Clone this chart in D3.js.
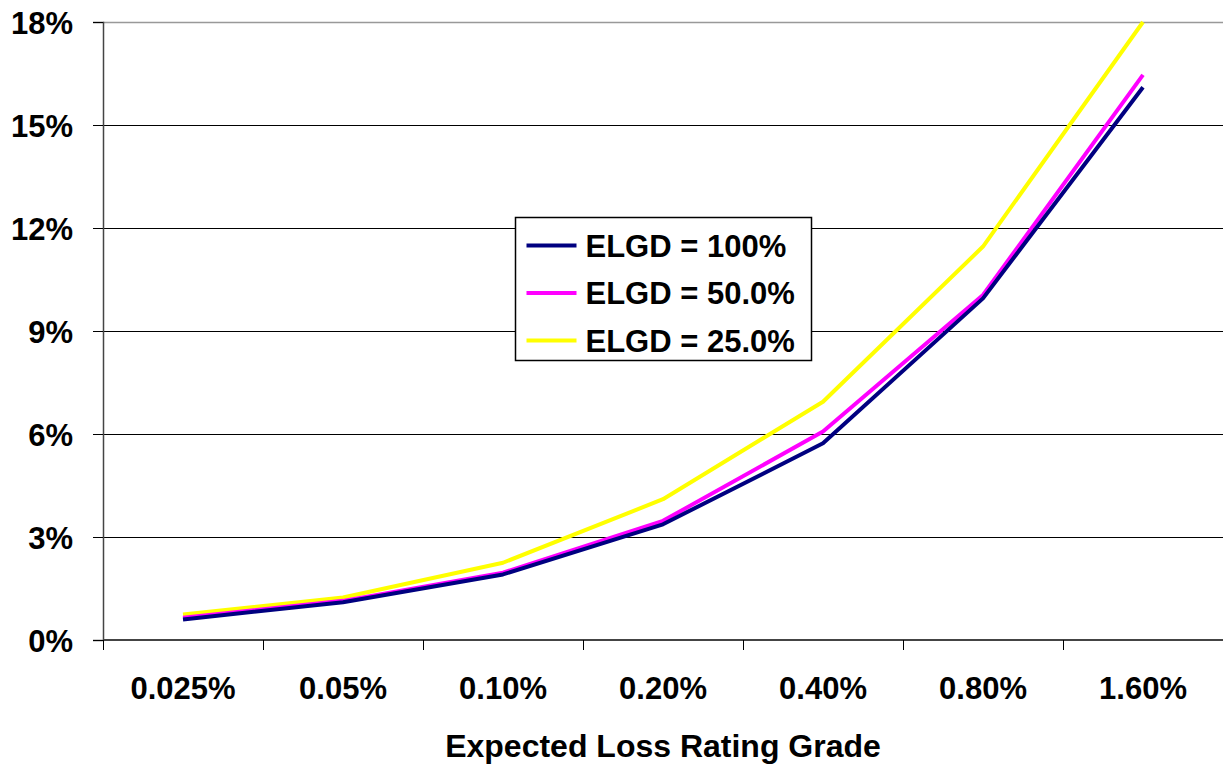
<!DOCTYPE html>
<html>
<head>
<meta charset="utf-8">
<script src="https://cdn.jsdelivr.net/npm/d3@7"></script>
<style>
  body { margin: 0; background: #fff; }
  svg text { font-family: "Liberation Sans", Arial, sans-serif; font-weight: bold; fill: #000; }
</style>
</head>
<body>
<svg id="chart" width="1223" height="764"></svg>
<script>
// data
var grades = ["0.025%", "0.05%", "0.10%", "0.20%", "0.40%", "0.80%", "1.60%"];
var yTicks = [0, 3, 6, 9, 12, 15, 18];
var elgd100 = [0.60, 1.10, 1.91, 3.37, 5.73, 9.95, 16.1];
var elgd50  = [0.65, 1.14, 1.96, 3.47, 6.07, 10.05, 16.46];
var elgd25  = [0.74, 1.24, 2.25, 4.10, 6.94, 11.46, 18.0];

var seriesNames = ["ELGD = 100%", "ELGD = 50.0%", "ELGD = 25.0%"];
var seriesColors = ["#000080", "#FF00FF", "#FFFF00"];
var series = [elgd100, elgd50, elgd25];

var margin = {top: 22, right: 0, bottom: 124, left: 103},
    width = 1223 - margin.left - margin.right,
    height = 764 - margin.top - margin.bottom;

var svg = d3.select("#chart")
  .append("g")
    .attr("transform", `translate(${margin.left}, ${margin.top})`);

var x = d3.scaleBand().domain(grades).range([0, width]);
var y = d3.scaleLinear().domain([0, 18]).range([height, 0]);

// gridlines
svg.append("g")
  .selectAll("line")
  .data(yTicks.filter(d => d > 0 && d < 18))
  .enter().append("line")
    .attr("x1", 0).attr("x2", width)
    .attr("y1", d => y(d) + 0.5).attr("y2", d => y(d) + 0.5)
    .attr("stroke", "#000").attr("stroke-width", 1);

// top border
svg.append("line")
  .attr("x1", 0).attr("x2", width)
  .attr("y1", 0.5).attr("y2", 0.5)
  .attr("stroke", "#999").attr("stroke-width", 1.5);

// y axis
var yAxis = d3.axisLeft(y).tickValues(yTicks).tickSize(10).tickPadding(20)
  .tickFormat(d => d + "%");
var gy = svg.append("g").call(yAxis);
gy.select(".domain").attr("stroke", "#444").attr("stroke-width", 1.5);
gy.selectAll(".tick line").attr("stroke", "#000").attr("stroke-width", 1);
gy.selectAll("text").style("font-size", "31px").attr("dy", "0.36em");

// x axis
var gx = svg.append("g")
  .attr("transform", `translate(0,${height})`);
gx.append("line")
  .attr("x1", 0).attr("x2", width)
  .attr("stroke", "#444").attr("stroke-width", 2);
gx.selectAll(".xt")
  .data(grades.concat(["end"]))
  .enter().append("line")
    .attr("class", "xt")
    .attr("x1", (d, i) => i * x.bandwidth() + 0.5)
    .attr("x2", (d, i) => i * x.bandwidth() + 0.5)
    .attr("y1", 0).attr("y2", 10)
    .attr("stroke", "#000").attr("stroke-width", 1);
gx.selectAll(".xl")
  .data(grades)
  .enter().append("text")
    .attr("class", "xl")
    .attr("x", d => x(d) + x.bandwidth() / 2)
    .attr("y", 59)
    .attr("text-anchor", "middle")
    .style("font-size", "31px")
    .text(d => d);

svg.append("text")
  .attr("x", width / 2 + 0)
  .attr("y", height + 117)
  .attr("text-anchor", "middle")
  .style("font-size", "32px")
  .text("Expected Loss Rating Grade");

// lines
var line = d3.line()
  .x((d, i) => x(grades[i]) + x.bandwidth() / 2)
  .y(d => y(d));

for (var k = series.length - 1; k >= 0; k--) {
  svg.append("path")
    .datum(series[k])
    .attr("fill", "none")
    .attr("stroke", seriesColors[k])
    .attr("stroke-width", 4)
    .attr("stroke-linejoin", "round")
    .attr("d", line);
}

// legend
var legend = d3.select("#chart").append("g")
  .attr("transform", "translate(515.5,217.5)");
legend.append("rect")
  .attr("width", 296).attr("height", 143)
  .attr("fill", "#fff").attr("stroke", "#000").attr("stroke-width", 1.5);
seriesNames.forEach(function(name, i) {
  var row = legend.append("g").attr("transform", `translate(0,${28 + i * 47.5})`);
  row.append("line")
    .attr("x1", 11).attr("x2", 61)
    .attr("stroke", seriesColors[i]).attr("stroke-width", 4);
  row.append("text")
    .attr("x", 70).attr("dy", "0.36em")
    .style("font-size", "31px")
    .text(name);
});
</script>
</body>
</html>
